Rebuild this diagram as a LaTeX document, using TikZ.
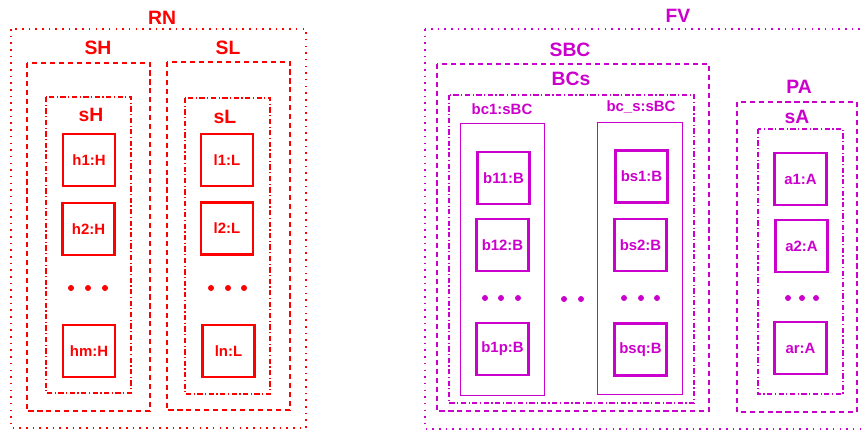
\documentclass[tikz,border=0pt]{standalone}
\usepackage{fontspec}
\setmainfont{Liberation Sans}
\usepackage{xcolor}
\usepackage{tikz}
\usetikzlibrary{positioning}
\definecolor{netred}{HTML}{FF0000}
\definecolor{fleetmag}{HTML}{CC00CC}
\tikzset{
  outerbox/.style={line width=0.75pt,dash pattern=on 0.9pt off 2.9pt},
  groupbox/.style={line width=0.6pt,dash pattern=on 2.9pt off 2.2pt},
  setbox/.style={line width=0.6pt,dash pattern=on 3pt off 1.4pt on 0.7pt off 1.4pt},
  chainbox/.style={line width=0.5pt},
  elem/.style={draw,line width=1.3pt,minimum size=1.04cm,inner sep=0pt,font=\fontsize{8.5}{9}\selectfont\bfseries},
  biglabel/.style={font=\fontsize{11}{12}\selectfont\bfseries},
  smalllabel/.style={font=\fontsize{8.5}{10}\selectfont\bfseries}
}

\begin{document}
\begin{tikzpicture}[x=0.02cm,y=-0.02cm]
  \useasboundingbox (0,0) rectangle (864,430);
  % network side
  \begin{scope}[netred,text=netred]
    \draw[outerbox] (11,29) rectangle (306,428);
    \node[biglabel] (RN) at (162,18) {RN};
    \draw[groupbox] (27,63) rectangle (150,411);
    \node[biglabel] (SH) at (98,48) {SH};
    \draw[groupbox] (167,62) rectangle (290,410);
    \node[biglabel] (SL) at (228,48) {SL};
    \draw[setbox] (46,97) rectangle (131,393);
    \node[biglabel] (sH) at (91,115) {sH};
    \draw[setbox] (185,98) rectangle (270,394);
    \node[biglabel] (sL) at (225,117) {sL};
    \node[elem] (h1) at (89,160) {h1:H};
    \node[elem] (h2) at (88.5,229) {h2:H};
    \node[elem] (hm) at (89,351) {hm:H};
    \node[elem] (l1) at (227,160) {l1:L};
    \node[elem] (l2) at (227,228.5) {l2:L};
    \node[elem] (ln) at (228.5,351) {ln:L};
    \foreach \x in {71,88,105,211,228,244}
      \fill (\x,288) circle[radius=1.7pt];
  \end{scope}
  % fleet side
  \begin{scope}[fleetmag,text=fleetmag]
    \draw[outerbox] (425,29) rectangle (870,429);
    \node[biglabel] (FV) at (678,16) {FV};
    \draw[groupbox] (437,64) rectangle (709,411);
    \node[biglabel] (SBC) at (570,50) {SBC};
    \draw[setbox] (449,95) rectangle (694,403);
    \node[biglabel] (BCs) at (571,79) {BCs};
    \draw[chainbox] (460,123) rectangle (544,395);
    \node[smalllabel] (bc1) at (502,109) {bc1:sBC};
    \draw[chainbox] (597,122) rectangle (682,394);
    \node[smalllabel] (bcs) at (641,107) {bc\_s:sBC};
    \draw[groupbox] (737,102) rectangle (857,412);
    \node[biglabel] (PA) at (799,87) {PA};
    \draw[setbox] (758,129) rectangle (843,394);
    \node[biglabel] (sA) at (797,117) {sA};
    \node[elem] (b11) at (503.5,178) {b11:B};
    \node[elem] (b12) at (502.5,245) {b12:B};
    \node[elem] (b1p) at (502.5,349) {b1p:B};
    \node[elem] (bs1) at (641.5,176.5) {bs1:B};
    \node[elem] (bs2) at (640.5,245) {bs2:B};
    \node[elem] (bsq) at (640.5,349.5) {bsq:B};
    \node[elem] (a1) at (800.5,179) {a1:A};
    \node[elem] (a2) at (801.5,246) {a2:A};
    \node[elem] (ar) at (800.5,348) {ar:A};
    \foreach \x in {485,501,518,624,641,657,788,802,816}
      \fill (\x,298) circle[radius=1.7pt];
    \foreach \x in {564,581}
      \fill (\x,299) circle[radius=1.7pt];
  \end{scope}
\end{tikzpicture}
\end{document}
